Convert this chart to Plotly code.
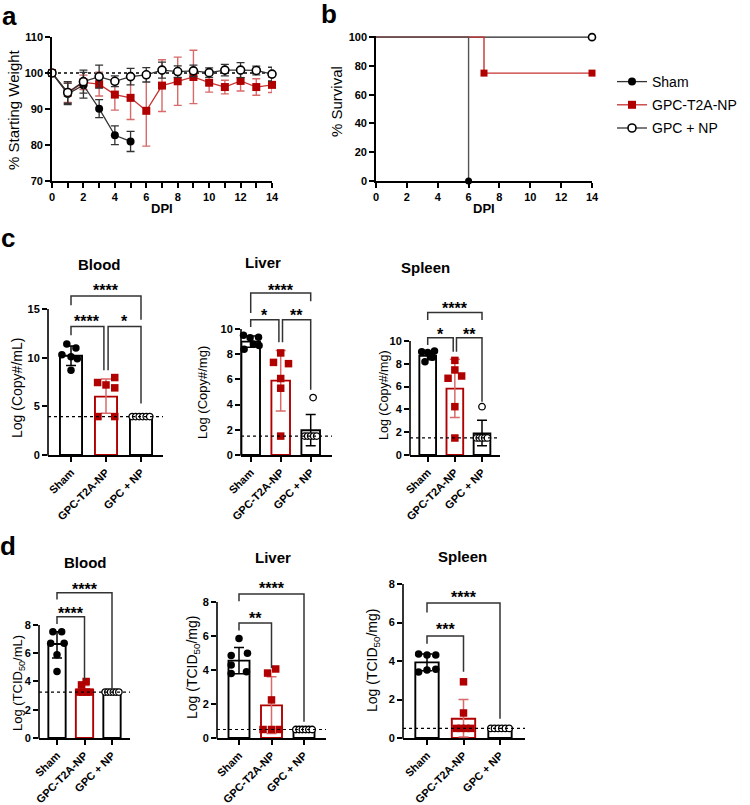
import plotly.graph_objects as go

W, H = 750, 805
FONT = "Arial, 'Liberation Sans', Helvetica, sans-serif"
BLK = "#000000"
GRAY = "#333333"
RED = "#B00000"
RED_LINE = "#C83232"
RED_ERR = "#D86A6A"

groups = ["Sham", "GPC-T2A-NP", "GPC + NP"]

# ---------------- panel a : body weight ----------------
days = list(range(15))
sham_days = [0, 1, 2, 3, 4, 5]
sham_weight = [100, 94.2, 96.6, 90.1, 82.7, 81.0]
sham_weight_sd = [0, 3.0, 3.6, 2.5, 2.6, 2.8]
t2a_weight = [100, 94.5, 97.4, 96.9, 94.0, 93.1, 89.5, 96.5, 97.7, 98.9, 97.3, 96.1, 97.8, 96.1, 96.7]
t2a_weight_sd = [0, 2.7, 2.0, 3.3, 4.3, 6.0, 9.8, 7.2, 6.7, 7.4, 2.6, 1.9, 2.8, 2.3, 2.1]
gpc_weight = [100, 94.6, 97.6, 99.0, 97.7, 99.0, 99.5, 100.8, 100.4, 100.6, 100.1, 100.8, 100.8, 100.7, 99.7]
gpc_weight_sd = [0, 3.0, 3.2, 3.2, 1.5, 2.3, 2.0, 2.2, 1.6, 1.6, 1.3, 1.6, 2.1, 1.2, 1.9]
weight_ref = 100
a_yticks = [70, 80, 90, 100, 110]
a_xticks = [0, 2, 4, 6, 8, 10, 12, 14]

# ---------------- panel b : survival ----------------
surv_sham_x = [0, 6, 6]
surv_sham_y = [100, 100, 0]
surv_t2a_x = [0, 7, 7, 14]
surv_t2a_y = [100, 100, 75, 75]
surv_gpc_x = [0, 14]
surv_gpc_y = [100, 100]
mark_sham_x, mark_sham_y = [6], [0]
mark_t2a_x, mark_t2a_y = [7, 14], [75, 75]
mark_gpc_x, mark_gpc_y = [14], [100]
b_yticks = [0, 20, 40, 60, 80, 100]
b_xticks = [0, 2, 4, 6, 8, 10, 12, 14]

# ---------------- panel c : viral RNA ----------------
c_blood_sham = [10.3, 11.4, 11.0, 9.9, 8.7, 10.1]
c_blood_t2a = [7.45, 7.96, 6.9, 7.2, 3.95, 3.95]
c_blood_gpc = [3.95, 3.95, 3.95, 3.95, 3.95, 3.95]
c_blood_mean = [10.2, 6.0, 3.95]
c_blood_err_up = [1.0, 1.8, 0.0]
c_blood_err_dn = [1.0, 1.7, 0.0]
c_blood_lod = 3.95
c_blood_yticks = [0, 5, 10, 15]
c_blood_stars = ["****", "****", "*"]

c_liver_sham = [9.5, 9.3, 9.35, 8.4, 8.8, 8.7]
c_liver_t2a = [8.1, 7.35, 7.25, 6.07, 5.3, 1.5]
c_liver_gpc = [4.56, 1.5, 1.5, 1.5, 1.5, 1.5]
c_liver_mean = [9.0, 5.9, 1.96]
c_liver_err_up = [0.45, 2.4, 1.26]
c_liver_err_dn = [0.45, 2.4, 1.22]
c_liver_lod = 1.5
c_liver_yticks = [0, 2, 4, 6, 8, 10]
c_liver_stars = ["****", "*", "**"]

c_spleen_sham = [9.06, 9.0, 9.12, 8.63, 8.19, 8.57]
c_spleen_t2a = [8.3, 7.46, 6.73, 6.93, 4.24, 1.49]
c_spleen_gpc = [4.24, 1.5, 1.5, 1.5, 1.5, 1.5]
c_spleen_mean = [8.71, 5.82, 1.9]
c_spleen_err_up = [0.35, 2.57, 1.14]
c_spleen_err_dn = [0.35, 2.52, 1.08]
c_spleen_lod = 1.5
c_spleen_yticks = [0, 2, 4, 6, 8, 10]
c_spleen_stars = ["****", "*", "**"]

# ---------------- panel d : infectious virus ----------------
d_blood_sham = [7.53, 7.53, 6.7, 6.7, 5.9, 4.7]
d_blood_t2a = [4.0, 3.76, 3.25, 3.25, 3.25, 3.25]
d_blood_gpc = [3.25, 3.25, 3.25, 3.25, 3.25, 3.25]
d_blood_mean = [6.66, 3.41, 3.25]
d_blood_err_up = [0.87, 0.3, 0.0]
d_blood_err_dn = [1.0, 0.16, 0.0]
d_blood_lod = 3.25
d_blood_yticks = [0, 2, 4, 6, 8]
d_blood_stars = ["****", "****"]

d_liver_sham = [5.85, 4.85, 4.99, 4.3, 3.8, 3.9]
d_liver_t2a = [3.82, 4.06, 2.24, 0.5, 0.5, 0.5]
d_liver_gpc = [0.5, 0.5, 0.5, 0.5, 0.5, 0.5]
d_liver_mean = [4.55, 1.92, 0.5]
d_liver_err_up = [0.77, 1.68, 0.0]
d_liver_err_dn = [0.77, 1.66, 0.0]
d_liver_lod = 0.5
d_liver_yticks = [0, 2, 4, 6, 8]
d_liver_stars = ["****", "**"]

d_spleen_sham = [4.37, 4.31, 4.31, 3.43, 3.53, 3.57]
d_spleen_t2a = [2.92, 1.3, 0.5, 0.5, 0.5, 0.5]
d_spleen_gpc = [0.5, 0.5, 0.5, 0.5, 0.5, 0.5]
d_spleen_mean = [3.93, 1.0, 0.5]
d_spleen_err_up = [0.43, 1.0, 0.0]
d_spleen_err_dn = [0.43, 0.95, 0.0]
d_spleen_lod = 0.5
d_spleen_yticks = [0, 2, 4, 6, 8]
d_spleen_stars = ["****", "***"]

# ---------------- layout geometry (pixels) & jitter ----------------
ROW = [-0.25, -0.15, -0.05, 0.05, 0.15, 0.25]
bar_panels = [
    dict(title="Blood", ytitle="Log (Copy#/mL)",
         pts=[c_blood_sham, c_blood_t2a, c_blood_gpc], mean=c_blood_mean,
         up=c_blood_err_up, dn=c_blood_err_dn, lod=c_blood_lod, yticks=c_blood_yticks, stars=c_blood_stars,
         jit=[[-0.26, -0.12, 0.14, 0.18, 0.0, 0.0], [-0.24, 0.25, 0.25, 0.0, -0.23, 0.25], ROW],
         geo=dict(left=48, right=163, c0=71, sp=35, y0=455, unit=9.73, ytop=18.0, bw=0.63),
         brackets=[(0, 2, 16.34, 15.4, 13.9, 17.3), (0, 1, 13.2, 12.3, 8.7, 14.1), (1, 2, 13.2, 8.7, 5.3, 14.1)],
         tpos=(99, 264), ypos=(17, 388), tsize=14),
    dict(title="Liver", ytitle="Log (Copy#/mg)",
         pts=[c_liver_sham, c_liver_t2a, c_liver_gpc], mean=c_liver_mean,
         up=c_liver_err_up, dn=c_liver_err_dn, lod=c_liver_lod, yticks=c_liver_yticks, stars=c_liver_stars,
         jit=[[-0.24, -0.02, 0.26, -0.22, 0.09, 0.28], [0.0, -0.24, 0.26, 0.0, 0.0, 0.0], [0.08, -0.2, -0.1, 0.0, 0.1, 0.2]],
         geo=dict(left=241, right=332, c0=250.7, sp=30, y0=455, unit=12.6, ytop=14.0, bw=0.62),
         brackets=[(0, 2, 12.86, 11.27, 12.2, 13.4), (0, 1, 10.74, 10.16, 8.94, 11.35), (1, 2, 10.74, 8.94, 5.17, 11.35)],
         tpos=(263, 262), ypos=(202, 392), tsize=13),
    dict(title="Spleen", ytitle="Log (Copy#/mg)",
         pts=[c_spleen_sham, c_spleen_t2a, c_spleen_gpc], mean=c_spleen_mean,
         up=c_spleen_err_up, dn=c_spleen_err_dn, lod=c_spleen_lod, yticks=c_spleen_yticks, stars=c_spleen_stars,
         jit=[[-0.22, 0.0, 0.25, 0.1, -0.1, 0.18], [0.0, 0.0, -0.25, 0.25, 0.0, 0.0], [0.0, -0.2, -0.1, 0.0, 0.1, 0.2]],
         geo=dict(left=410, right=500, c0=427.7, sp=27.15, y0=455, unit=11.4, ytop=13.8, bw=0.615),
         brackets=[(0, 2, 12.49, 11.84, 11.84, 13.16), (0, 1, 10.29, 9.65, 9.06, 10.96), (1, 2, 10.29, 9.06, 4.68, 10.96)],
         tpos=(425, 267), ypos=(384, 395), tsize=12.5),
    dict(title="Blood", ytitle="Log (TCID<sub>50</sub>/mL)",
         pts=[d_blood_sham, d_blood_t2a, d_blood_gpc], mean=d_blood_mean,
         up=d_blood_err_up, dn=d_blood_err_dn, lod=d_blood_lod, yticks=d_blood_yticks, stars=d_blood_stars,
         jit=[[-0.15, 0.17, -0.23, 0.26, 0.0, 0.0], [0.06, -0.11, -0.2, -0.07, 0.07, 0.2], ROW],
         geo=dict(left=39, right=130, c0=57, sp=27.5, y0=738, unit=14.125, ytop=11.3, bw=0.63),
         brackets=[(0, 2, 10.28, 9.81, 3.46, 10.82), (0, 1, 8.59, 8.07, 4.12, 9.1)],
         tpos=(85, 562), ypos=(18, 683), tsize=13),
    dict(title="Liver", ytitle="Log (TCID<sub>50</sub>/mg)",
         pts=[d_liver_sham, d_liver_t2a, d_liver_gpc], mean=d_liver_mean,
         up=d_liver_err_up, dn=d_liver_err_dn, lod=d_liver_lod, yticks=d_liver_yticks, stars=d_liver_stars,
         jit=[[0.0, -0.24, 0.26, -0.24, -0.24, 0.23], [-0.12, 0.13, 0.0, -0.26, 0.0, 0.24], ROW],
         geo=dict(left=217, right=326, c0=239, sp=32.5, y0=738, unit=17.0, ytop=9.4, bw=0.646),
         brackets=[(0, 2, 8.47, 8.04, 0.95, 9.02), (0, 1, 6.76, 6.33, 4.1, 7.29)],
         tpos=(273, 557), ypos=(193, 668), tsize=14),
    dict(title="Spleen", ytitle="Log (TCID<sub>50</sub>/mg)",
         pts=[d_spleen_sham, d_spleen_t2a, d_spleen_gpc], mean=d_spleen_mean,
         up=d_spleen_err_up, dn=d_spleen_err_dn, lod=d_spleen_lod, yticks=d_spleen_yticks, stars=d_spleen_stars,
         jit=[[-0.23, 0.0, 0.24, -0.23, 0.0, 0.24], [0.0, 0.0, -0.2, -0.07, 0.07, 0.2], ROW],
         geo=dict(left=403, right=525, c0=427, sp=36.5, y0=738, unit=19.25, ytop=8.0, bw=0.64),
         brackets=[(0, 2, 7.01, 6.52, 1.0, 7.53), (0, 1, 5.3, 4.89, 3.44, 5.83)],
         tpos=(463, 556), ypos=(373, 661), tsize=14),
]


def px(x):
    return x / W


def py(y):
    return 1 - y / H


fig = go.Figure()
shapes = []
annots = []
layout = {}

tickfont = dict(family=FONT, size=11, color=BLK, weight="bold")
base_axis = dict(showgrid=False, zeroline=False, ticks="outside", ticklen=5, tickwidth=1.5,
                 tickcolor=BLK, linecolor=BLK, linewidth=1.6, tickfont=tickfont, automargin=False)

# ---------------- panel a ----------------
layout["xaxis"] = dict(base_axis, domain=[px(52), px(272)], range=[0, 14], anchor="y", showline=True,
                       tickvals=a_xticks,
                       minor=dict(dtick=1, ticks="outside", ticklen=5, tickwidth=1.5, tickcolor=BLK, showgrid=False))
layout["yaxis"] = dict(base_axis, domain=[py(181), py(37)], range=[70, 110], anchor="x", showline=True,
                       tickvals=a_yticks)
shapes.append(dict(type="line", xref="x", yref="y", x0=0, x1=14, y0=weight_ref, y1=weight_ref,
                   line=dict(color=BLK, width=1.5, dash="dot"), layer="below"))

fig.add_trace(go.Scatter(x=days, y=t2a_weight, mode="lines+markers", name="GPC-T2A-NP", legendrank=2,
                         legendgroup="t2a",
                         line=dict(color=RED_LINE, width=1.3),
                         marker=dict(symbol="square", size=8, color=RED),
                         error_y=dict(type="data", array=t2a_weight_sd, color=RED_ERR, thickness=1.4, width=4),
                         cliponaxis=False, xaxis="x", yaxis="y"))
fig.add_trace(go.Scatter(x=sham_days, y=sham_weight, mode="lines+markers", name="Sham", legendrank=1,
                         legendgroup="sham",
                         line=dict(color=GRAY, width=1.3),
                         marker=dict(symbol="circle", size=8, color=BLK),
                         error_y=dict(type="data", array=sham_weight_sd, color=GRAY, thickness=1.3, width=4),
                         cliponaxis=False, xaxis="x", yaxis="y"))
fig.add_trace(go.Scatter(x=days, y=gpc_weight, mode="lines+markers", name="GPC + NP", legendrank=3,
                         legendgroup="gpc",
                         line=dict(color=GRAY, width=1.3),
                         marker=dict(symbol="circle", size=8, color="white", line=dict(color=BLK, width=1.6)),
                         error_y=dict(type="data", array=gpc_weight_sd, color=GRAY, thickness=1.3, width=4),
                         cliponaxis=False, xaxis="x", yaxis="y"))

# ---------------- panel b ----------------
layout["xaxis2"] = dict(base_axis, domain=[px(376), px(592)], range=[0, 14], anchor="y2", showline=True,
                        tickvals=b_xticks)
layout["yaxis2"] = dict(base_axis, domain=[py(181), py(36)], range=[0, 100.8], anchor="x2", showline=True,
                        tickvals=b_yticks)
fig.add_trace(go.Scatter(x=surv_gpc_x, y=surv_gpc_y, mode="lines", line=dict(color="#222222", width=1.4),
                         showlegend=False, xaxis="x2", yaxis="y2"))
fig.add_trace(go.Scatter(x=surv_t2a_x, y=surv_t2a_y, mode="lines", line=dict(color=RED_LINE, width=1.4),
                         showlegend=False, xaxis="x2", yaxis="y2"))
fig.add_trace(go.Scatter(x=surv_sham_x, y=surv_sham_y, mode="lines", line=dict(color="#555555", width=1.4),
                         showlegend=False, xaxis="x2", yaxis="y2"))
fig.add_trace(go.Scatter(x=mark_sham_x, y=mark_sham_y, mode="markers", marker=dict(size=7, color=BLK),
                         cliponaxis=False, showlegend=False, xaxis="x2", yaxis="y2"))
fig.add_trace(go.Scatter(x=mark_t2a_x, y=mark_t2a_y, mode="markers",
                         marker=dict(symbol="square", size=7, color=RED), cliponaxis=False,
                         showlegend=False, xaxis="x2", yaxis="y2"))
fig.add_trace(go.Scatter(x=mark_gpc_x, y=mark_gpc_y, mode="markers",
                         marker=dict(size=7, color="white", line=dict(color=BLK, width=1.6)),
                         cliponaxis=False, showlegend=False, xaxis="x2", yaxis="y2"))

# axis titles a/b
annots.append(dict(text="% Starting Weight", x=px(13), y=py(110), textangle=-90,
                   font=dict(family=FONT, size=15, color=BLK)))
annots.append(dict(text="% Survival", x=px(336), y=py(102), textangle=-90,
                   font=dict(family=FONT, size=15, color=BLK)))
annots.append(dict(text="<b>DPI</b>", x=px(162), y=py(208), font=dict(family=FONT, size=13, color=BLK)))
annots.append(dict(text="<b>DPI</b>", x=px(484), y=py(208), font=dict(family=FONT, size=13, color=BLK)))

# ---------------- panels c / d ----------------
styles = [
    dict(symbol="circle", size=7.5, color=BLK),
    dict(symbol="square", size=7.5, color=RED),
    dict(symbol="circle", size=6.5, color="white", line=dict(color=BLK, width=1.3)),
]
outline = [BLK, RED, BLK]
errcol = [BLK, RED_ERR, BLK]

for k, p in enumerate(bar_panels):
    n = k + 3
    xa, ya = f"x{n}", f"y{n}"
    g = p["geo"]
    x_lo = (g["left"] - g["c0"]) / g["sp"]
    x_hi = (g["right"] - g["c0"]) / g["sp"]
    top_px = g["y0"] - g["ytop"] * g["unit"]
    layout[f"xaxis{n}"] = dict(base_axis, domain=[px(g["left"]), px(g["right"])], range=[x_lo, x_hi],
                               anchor=ya, showline=True, tickvals=[0, 1, 2], ticktext=groups, tickangle=-45,
                               tickfont=dict(tickfont, size=11))
    layout[f"yaxis{n}"] = dict(base_axis, domain=[py(g["y0"]), py(top_px)], range=[0, g["ytop"]],
                               anchor=xa, showline=False, tickvals=p["yticks"],
                               tickfont=dict(tickfont, size=11))
    # y axis line only up to the top tick
    ymax_px = g["y0"] - max(p["yticks"]) * g["unit"]
    shapes.append(dict(type="line", xref="paper", yref="paper", x0=px(g["left"]), x1=px(g["left"]),
                       y0=py(g["y0"] + 0.8), y1=py(ymax_px), line=dict(color=BLK, width=1.6)))
    # bars
    for gi in range(3):
        fig.add_trace(go.Bar(x=[gi], y=[p["mean"][gi]], width=g["bw"],
                             marker=dict(color="white", line=dict(color=outline[gi], width=1.9)),
                             error_y=dict(type="data", symmetric=False, array=[p["up"][gi]],
                                          arrayminus=[p["dn"][gi]], color=errcol[gi], thickness=1.5, width=5,
                                          visible=p["up"][gi] > 0),
                             showlegend=False, xaxis=xa, yaxis=ya))
    # points
    for gi in range(3):
        fig.add_trace(go.Scatter(x=[gi + j for j in p["jit"][gi]], y=p["pts"][gi], mode="markers",
                                 marker=styles[gi], cliponaxis=False, showlegend=False, xaxis=xa, yaxis=ya))
    # LOD
    shapes.append(dict(type="line", xref=xa, yref=ya, x0=x_lo, x1=x_hi, y0=p["lod"], y1=p["lod"],
                       line=dict(color=BLK, width=1.2, dash="dot")))
    # significance brackets
    for bi, (a, b, yl, ya_end, yb_end, ytxt) in enumerate(p["brackets"]):
        off_a = 0.06 if (a == 1 and len(p["brackets"]) == 3) else 0
        off_b = -0.06 if (b == 1 and len(p["brackets"]) == 3) else 0
        xa0, xb0 = a + off_a, b + off_b
        shapes.append(dict(type="path", xref=xa, yref=ya,
                           path=f"M {xa0},{ya_end} L {xa0},{yl} L {xb0},{yl} L {xb0},{yb_end}",
                           line=dict(color=GRAY, width=1.5)))
        annots.append(dict(text=f"<b>{p['stars'][bi]}</b>", xref=xa, yref=ya, x=(xa0 + xb0) / 2, y=ytxt,
                           yshift=-4, font=dict(family=FONT, size=16, color=BLK)))
    # titles
    annots.append(dict(text=f"<b>{p['title']}</b>", x=px(p["tpos"][0]), y=py(p["tpos"][1]),
                       font=dict(family=FONT, size=15, color=BLK)))
    annots.append(dict(text=p["ytitle"], x=px(p["ypos"][0]), y=py(p["ypos"][1]), textangle=-90,
                       font=dict(family=FONT, size=p["tsize"], color=BLK)))

# panel letters
for letter, (lx, ly) in {"a": (9, 16), "b": (329, 14), "c": (8, 238), "d": (8, 546)}.items():
    annots.append(dict(text=f"<b>{letter}</b>", x=px(lx), y=py(ly), font=dict(family=FONT, size=26, color=BLK)))

for a in annots:
    a.setdefault("xref", "paper")
    a.setdefault("yref", "paper")
    a.setdefault("showarrow", False)
    a.setdefault("xanchor", "center")
    a.setdefault("yanchor", "middle")

fig.update_layout(
    width=W, height=H, margin=dict(l=0, r=0, t=0, b=0, pad=0, autoexpand=False),
    paper_bgcolor="white", plot_bgcolor="white", barmode="overlay",
    font=dict(family=FONT, color=BLK),
    shapes=shapes, annotations=annots,
    legend=dict(x=px(612), y=py(66), xanchor="left", yanchor="top", bgcolor="rgba(0,0,0,0)",
                font=dict(family=FONT, size=14, color=BLK), itemwidth=30, tracegroupgap=2,
                traceorder="grouped"),
    **layout,
)

fig.write_html("out.html", config={"displayModeBar": False},
               post_script="document.body.style.margin='0px';")
